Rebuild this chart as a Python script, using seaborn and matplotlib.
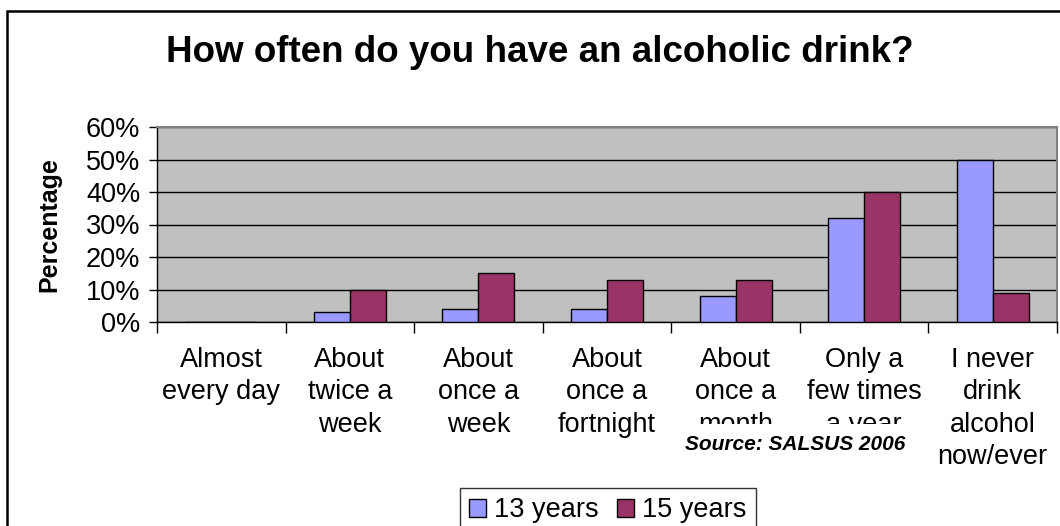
import matplotlib
matplotlib.use("Agg")
import matplotlib.pyplot as plt
from matplotlib.patches import Rectangle
from matplotlib.ticker import FuncFormatter, FixedLocator
import numpy as np
import pandas as pd
import seaborn as sns

# Survey answers (categories) and share of pupils per age group, in percent
categories = [
    "Almost\nevery day",
    "About\ntwice a\nweek",
    "About\nonce a\nweek",
    "About\nonce a\nfortnight",
    "About\nonce a\nmonth",
    "Only a\nfew times\na year",
    "I never\ndrink\nalcohol\nnow/ever",
]
age_groups = ["13 years", "15 years"]
pct_13 = [0, 3, 4, 4, 8, 32, 50]
pct_15 = [0, 10, 15, 13, 13, 40, 9]
y_ticks = [0, 10, 20, 30, 40, 50, 60]

df = pd.DataFrame({
    "freq": categories * 2,
    "pct": pct_13 + pct_15,
    "age": [age_groups[0]] * len(categories) + [age_groups[1]] * len(categories),
})

sns.set_theme(style="white")
plt.rcParams["font.family"] = ["Liberation Sans", "DejaVu Sans"]
for key in ["text.color", "axes.labelcolor", "xtick.color", "ytick.color"]:
    plt.rcParams[key] = "black"

W, H = 1060, 526
fig = plt.figure(figsize=(W / 100, H / 100), dpi=100)
ax = fig.add_axes([157 / W, 1 - 322 / H, 900 / W, 195 / H])
ax.set_facecolor("#C0C0C0")

sns.barplot(data=df, x="freq", y="pct", hue="age", order=categories,
            hue_order=age_groups, palette=["#9999FF", "#993366"],
            edgecolor="black", linewidth=1.0, width=0.56, gap=0,
            saturation=1, ax=ax, legend=True, zorder=3)

ax.set_ylim(0, 60)
ax.set_xlim(-0.5, len(categories) - 0.5)
ax.yaxis.set_major_locator(FixedLocator(y_ticks))
ax.yaxis.set_major_formatter(FuncFormatter(lambda v, p: f"{v:.0f}%"))
ax.grid(axis="y", color="black", linewidth=1.0, zorder=1)
ax.set_axisbelow(True)

ax.set_xlabel("")
ax.set_ylabel("Percentage", fontsize=18, fontweight="bold")
ax.yaxis.set_label_coords((61 - 157) / 900, 0.5)

# category separators as ticks
ax.set_xticks(np.arange(len(categories)))
ax.set_xticklabels(categories, fontsize=19.5, linespacing=1.32, va="top")
ax.set_xticks(np.arange(-0.5, len(categories)), minor=True)
ax.tick_params(axis="x", which="major", length=0, pad=18)
ax.tick_params(axis="x", which="minor", length=8, width=1, color="black",
               direction="out", bottom=True)
ax.tick_params(axis="y", length=6, width=1, color="black", direction="out",
               left=True, labelsize=19.5, pad=6)

for side in ["left", "bottom"]:
    ax.spines[side].set_color("black")
    ax.spines[side].set_linewidth(1.0)
for side in ["top", "right"]:
    ax.spines[side].set_color("#808080")
    ax.spines[side].set_linewidth(1.5)

handles, labels = ax.get_legend_handles_labels()
ax.get_legend().remove()
leg = fig.legend(handles, labels, loc="upper left",
                 bbox_to_anchor=(460 / W, 1 - 488 / H), ncol=2,
                 fontsize=19.5, frameon=True, fancybox=False,
                 handlelength=0.6, handleheight=0.6, handletextpad=0.3,
                 columnspacing=0.7, borderpad=0.35, borderaxespad=0)
leg.get_frame().set_edgecolor("black")
leg.get_frame().set_linewidth(1.0)

fig.text(540 / W, 1 - 52 / H, "How often do you have an alcoholic drink?",
         ha="center", va="center", fontsize=26.5, fontweight="bold")

# source note sits on a white box that covers the labels behind it
fig.text(795 / W, 1 - 444 / H, "Source: SALSUS 2006", ha="center",
         va="center", fontsize=15, fontweight="bold", style="italic",
         zorder=6,
         bbox=dict(boxstyle="square,pad=0.5", facecolor="white",
                   edgecolor="none"))

# chart frame
fig.add_artist(Rectangle((7 / W, -0.1), 1.2, 1.1 - 11 / H,
                         transform=fig.transFigure, fill=False,
                         edgecolor="black", linewidth=1.8, zorder=10))

fig.savefig("out.png", dpi=100)
